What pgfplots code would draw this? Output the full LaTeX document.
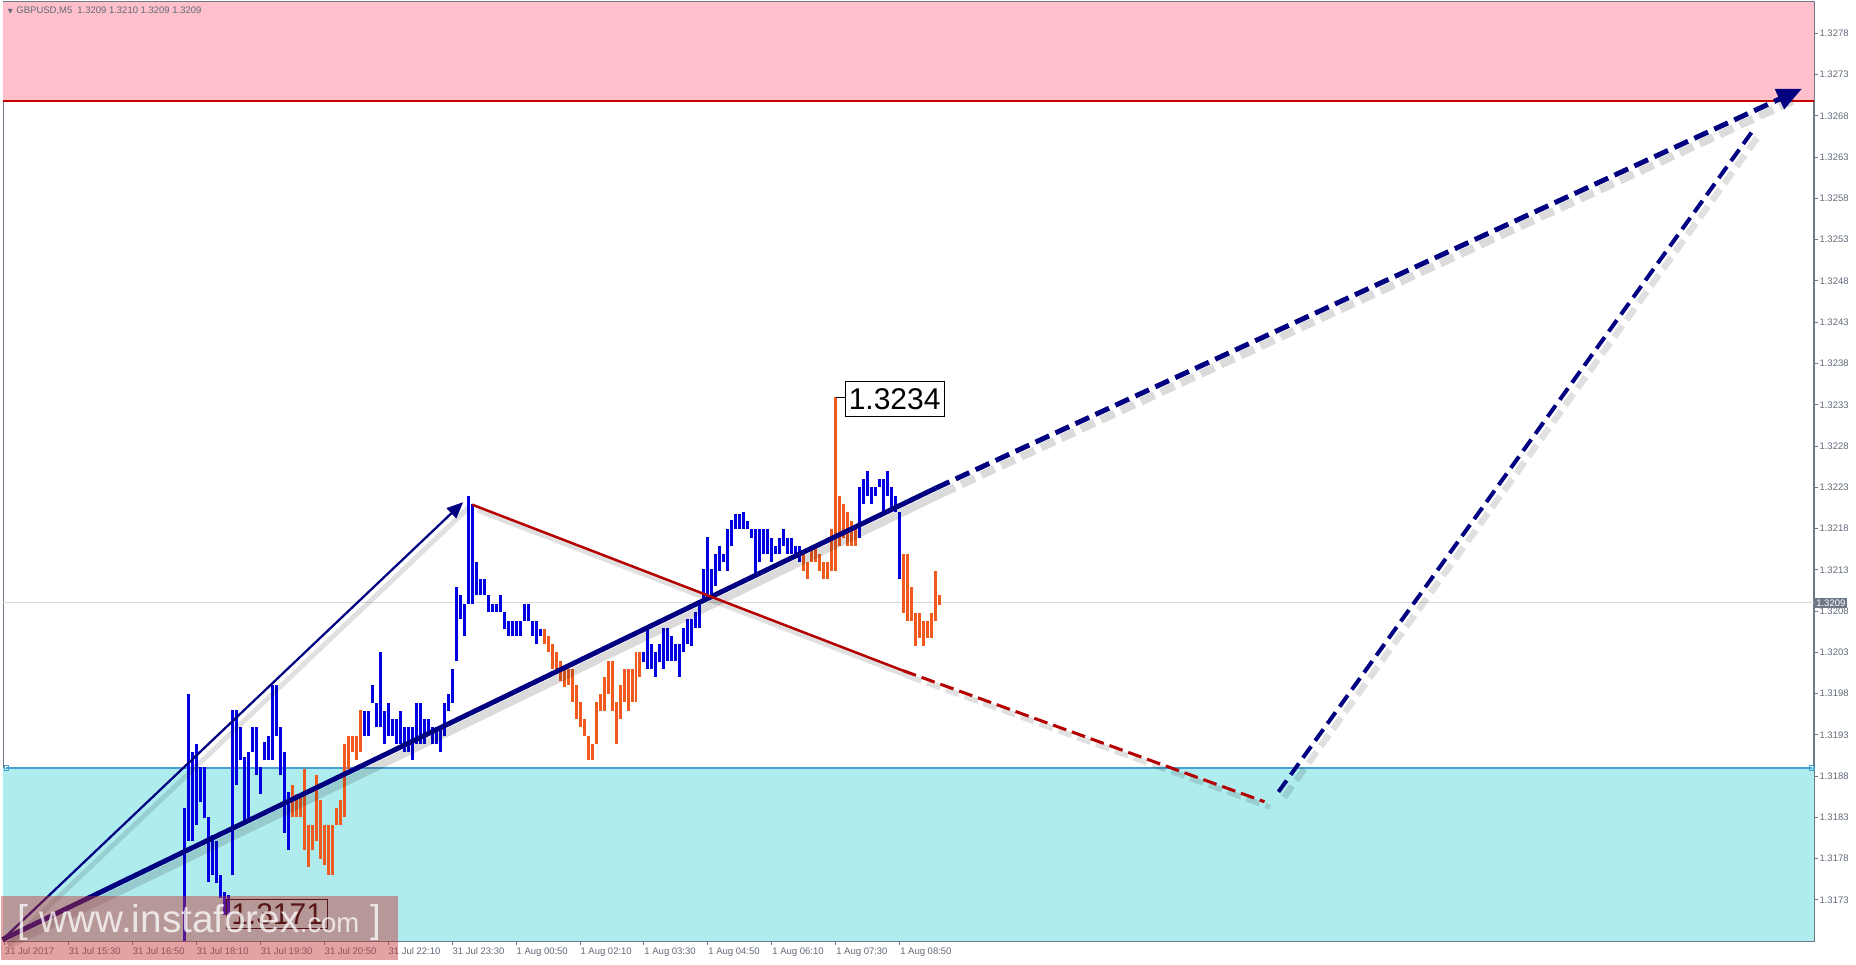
\documentclass[border=0pt]{standalone}
\usepackage{fontspec}
\setmainfont{Liberation Sans}
\newfontfamily\dejavu{DejaVu Sans}
\usepackage{pgfplots}
\usepackage{pgfplotstable}
\pgfplotsset{compat=1.18}
\usetikzlibrary{arrows.meta}

\definecolor{barblue}{RGB}{0,0,225}
\definecolor{barorange}{RGB}{240,90,30}
\definecolor{wave}{RGB}{0,0,128}
\definecolor{wavered}{RGB}{180,0,0}
\definecolor{zonepink}{RGB}{255,192,203}
\definecolor{zonecyan}{RGB}{175,236,238}
\definecolor{zoneline}{RGB}{70,160,210}
\definecolor{axisgray}{RGB}{110,120,135}
\definecolor{labgray}{RGB}{95,105,120}

% bar index (5 min, 0 = 31 Jul 14:10), low, high
\pgfplotstableread{
i l h
45 1.31680 1.31841
46 1.31801 1.31980
47 1.31801 1.31909
48 1.31821 1.31919
49 1.31849 1.31891
50 1.31829 1.31891
51 1.31752 1.31831
52 1.31760 1.31809
53 1.31750 1.31801
54 1.31732 1.31760
55 1.31712 1.31740
56 1.31712 1.31736
57 1.31760 1.31960
58 1.31869 1.31960
59 1.31899 1.31940
60 1.31821 1.31903
61 1.31825 1.31909
62 1.31909 1.31940
63 1.31881 1.31940
64 1.31859 1.31891
65 1.31899 1.31921
66 1.31899 1.31929
67 1.31899 1.31990
68 1.31929 1.31990
69 1.31881 1.31940
70 1.31811 1.31909
71 1.31790 1.31861
90 1.31929 1.31959
91 1.31929 1.31959
92 1.31969 1.31990
93 1.31939 1.31969
94 1.31939 1.32030
95 1.31919 1.31959
96 1.31929 1.31969
97 1.31929 1.31949
98 1.31919 1.31949
99 1.31919 1.31959
100 1.31909 1.31939
101 1.31909 1.31939
102 1.31899 1.31939
103 1.31919 1.31969
104 1.31919 1.31969
105 1.31919 1.31949
106 1.31929 1.31949
107 1.31919 1.31939
108 1.31919 1.31939
109 1.31909 1.31939
110 1.31929 1.31969
111 1.31959 1.31980
112 1.31969 1.32010
113 1.32020 1.32109
114 1.32070 1.32099
115 1.32050 1.32089
116 1.32089 1.32220
117 1.32089 1.32210
118 1.32099 1.32139
119 1.32099 1.32119
120 1.32099 1.32119
121 1.32079 1.32099
122 1.32079 1.32089
123 1.32079 1.32089
124 1.32079 1.32099
125 1.32058 1.32079
126 1.32050 1.32068
127 1.32050 1.32068
128 1.32050 1.32068
129 1.32050 1.32068
130 1.32068 1.32089
131 1.32068 1.32089
132 1.32050 1.32068
133 1.32040 1.32068
134 1.32050 1.32058
160 1.32018 1.32030
161 1.32010 1.32058
162 1.32010 1.32040
163 1.32000 1.32030
164 1.32018 1.32040
165 1.32010 1.32060
166 1.32020 1.32060
167 1.32020 1.32050
168 1.32020 1.32040
169 1.32000 1.32040
170 1.32030 1.32060
171 1.32040 1.32071
172 1.32038 1.32071
173 1.32060 1.32079
174 1.32060 1.32091
175 1.32095 1.32131
176 1.32101 1.32170
177 1.32101 1.32131
178 1.32111 1.32149
179 1.32129 1.32159
180 1.32139 1.32149
181 1.32129 1.32180
182 1.32159 1.32190
183 1.32180 1.32198
184 1.32180 1.32198
185 1.32179 1.32200
186 1.32179 1.32189
187 1.32169 1.32179
188 1.32125 1.32179
189 1.32139 1.32179
190 1.32149 1.32179
191 1.32149 1.32179
192 1.32139 1.32169
193 1.32149 1.32159
194 1.32149 1.32169
195 1.32159 1.32179
196 1.32149 1.32169
197 1.32149 1.32169
198 1.32149 1.32159
199 1.32139 1.32159
214 1.32169 1.32230
215 1.32210 1.32240
216 1.32220 1.32250
217 1.32210 1.32230
218 1.32220 1.32230
219 1.32230 1.32240
220 1.32200 1.32240
221 1.32220 1.32250
222 1.32200 1.32230
223 1.32200 1.32220
224 1.32119 1.32200
}\bluebars

\pgfplotstableread{
i l h
72 1.31831 1.31869
73 1.31831 1.31859
74 1.31831 1.31859
75 1.31790 1.31889
76 1.31770 1.31821
77 1.31790 1.31821
78 1.31801 1.31881
79 1.31780 1.31851
80 1.31772 1.31821
81 1.31760 1.31821
82 1.31760 1.31821
83 1.31821 1.31841
84 1.31821 1.31851
85 1.31831 1.31919
86 1.31889 1.31929
87 1.31909 1.31929
88 1.31899 1.31929
89 1.31909 1.31960
135 1.32040 1.32058
136 1.32030 1.32050
137 1.32010 1.32040
138 1.32010 1.32030
139 1.31995 1.32020
140 1.31988 1.32010
141 1.31990 1.32010
142 1.31970 1.32010
143 1.31949 1.31990
144 1.31939 1.31970
145 1.31929 1.31949
146 1.31899 1.31929
147 1.31899 1.31919
148 1.31919 1.31970
149 1.31959 1.31980
150 1.31959 1.32000
151 1.31980 1.32020
152 1.31959 1.32020
153 1.31919 1.31970
154 1.31949 1.31990
155 1.31970 1.32010
156 1.31959 1.32010
157 1.31970 1.32010
158 1.31970 1.32030
159 1.32000 1.32030
200 1.32129 1.32149
201 1.32119 1.32139
202 1.32139 1.32159
203 1.32139 1.32159
204 1.32129 1.32149
205 1.32119 1.32139
206 1.32119 1.32139
207 1.32129 1.32179
208 1.32129 1.32339
209 1.32159 1.32220
210 1.32169 1.32210
211 1.32159 1.32200
212 1.32159 1.32189
213 1.32159 1.32179
225 1.32078 1.32149
226 1.32068 1.32149
227 1.32068 1.32109
228 1.32038 1.32078
229 1.32048 1.32078
230 1.32038 1.32068
231 1.32048 1.32068
232 1.32048 1.32078
233 1.32068 1.32129
234 1.32088 1.32099
}\orangebars

\begin{document}
\begin{tikzpicture}
\begin{axis}[
  name=main,
  at={(0,0)}, anchor=south west,
  scale only axis, width=724.8pt, height=376pt,
  xmin=-0.25, xmax=452.75, ymin=1.31680, ymax=1.32818,
  clip=false,
  axis line style={draw=axisgray, line width=0.5pt},
  tick align=outside, major tick length=1.4pt,
  tick style={axisgray, line width=0.4pt},
  xtick pos=bottom, ytick pos=right,
  xtick={0,16,32,48,64,80,96,112,128,144,160,176,192,208,224},
  xticklabels={31 Jul 2017,31 Jul 15:30,31 Jul 16:50,31 Jul 18:10,31 Jul 19:30,31 Jul 20:50,31 Jul 22:10,31 Jul 23:30,1 Aug 00:50,1 Aug 02:10,1 Aug 03:30,1 Aug 04:50,1 Aug 06:10,1 Aug 07:30,1 Aug 08:50},
  ytick={1.3173,1.3178,1.3183,1.3188,1.3193,1.3198,1.3203,1.3208,1.3213,1.3218,1.3223,1.3228,1.3233,1.3238,1.3243,1.3248,1.3253,1.3258,1.3263,1.3268,1.3273,1.3278},
  yticklabels={1.3173,1.3178,1.3183,1.3188,1.3193,1.3198,1.3203,1.3208,1.3213,1.3218,1.3223,1.3228,1.3233,1.3238,1.3243,1.3248,1.3253,1.3258,1.3263,1.3268,1.3273,1.3278},
  ticklabel style={font=\fontsize{3.8pt}{4pt}\selectfont, text=labgray},
  xticklabel style={anchor=north west, inner sep=0pt, yshift=-1pt},
  yticklabel style={anchor=west, inner sep=0pt, xshift=0.6pt},
]
% zones
\addplot[fill=zonepink, draw=none, forget plot] coordinates {(-0.25,1.32698) (452.75,1.32698) (452.75,1.32818) (-0.25,1.32818)} -- cycle;
\addplot[fill=zonecyan, draw=none, forget plot] coordinates {(-0.25,1.31680) (452.75,1.31680) (452.75,1.31890) (-0.25,1.31890)} -- cycle;
\addplot[wavered!80!red, line width=0.5pt, forget plot] coordinates {(-0.25,1.32698) (452.75,1.32698)};
\addplot[zoneline, line width=0.5pt, mark=square, mark size=0.9pt, mark options={fill=white}, forget plot] coordinates {(0.5,1.31890) (452.2,1.31890)};
% current price line
\addplot[black!15, line width=0.3pt, forget plot] coordinates {(-0.25,1.3209) (452.75,1.3209)};
% marker on the price scale
\addplot[axisgray, line width=0.9pt, forget plot] coordinates {(452.75,1.31974) (452.75,1.31998)};

% bars
\addplot[draw=none, no markers, forget plot,
  error bars/.cd, y dir=plus, y explicit, error mark=none,
  error bar style={draw=barblue, line width=1.2pt}]
  table[x=i, y=l, y error expr=\thisrow{h}-\thisrow{l}] {\bluebars};
\addplot[draw=none, no markers, forget plot,
  error bars/.cd, y dir=plus, y explicit, error mark=none,
  error bar style={draw=barorange, line width=1.2pt}]
  table[x=i, y=l, y error expr=\thisrow{h}-\thisrow{l}] {\orangebars};

% soft shadows of the wave lines
\begin{scope}[xshift=1.1pt, yshift=-1.1pt]
\addplot[black, opacity=0.12, line width=2pt, forget plot] coordinates {(-0.5,1.31682) (114.75,1.32212)};
\addplot[black, opacity=0.14, line width=3.2pt, forget plot] coordinates {(-0.5,1.31682) (233,1.32229)};
\addplot[black, opacity=0.14, line width=3.2pt, dash pattern=on 6pt off 2.8pt, forget plot] coordinates {(233,1.32229) (446,1.32705)};
\addplot[black, opacity=0.12, line width=2pt, forget plot] coordinates {(117,1.32209) (224.75,1.32008)};
\addplot[black, opacity=0.12, line width=2.2pt, dash pattern=on 5.6pt off 2.4pt, forget plot] coordinates {(224.75,1.32008) (315.25,1.31849)};
\addplot[black, opacity=0.12, line width=2.6pt, dash pattern=on 5.6pt off 2.8pt, forget plot] coordinates {(318.75,1.31861) (438,1.32666)};
\end{scope}

% wave lines
\addplot[wave, line width=0.9pt, -{Triangle[length=6.5pt,width=5.5pt]}, forget plot] coordinates {(-0.5,1.31682) (114.75,1.32212)};
\addplot[wave, line width=2pt, forget plot] coordinates {(-0.5,1.31682) (233,1.32229)};
\addplot[wave, line width=2pt, dash pattern=on 6pt off 2.8pt, -{Triangle[length=10pt,width=8.5pt]}, forget plot] coordinates {(233,1.32229) (449.75,1.32713)};
\addplot[wavered, line width=1pt, forget plot] coordinates {(117,1.32209) (224.75,1.32008)};
\addplot[wavered, line width=1.2pt, dash pattern=on 5.6pt off 2.4pt, forget plot] coordinates {(224.75,1.32008) (315.25,1.31849)};
\addplot[wave, line width=1.6pt, dash pattern=on 5.6pt off 2.8pt, forget plot] coordinates {(318.75,1.31861) (438,1.32666)};

% price labels
\draw[black, line width=0.4pt] (axis cs:208,1.32339) -- (axis cs:210.25,1.32339);
\node[draw=black, fill=white, line width=0.4pt, inner xsep=1.4pt, inner ysep=2.9pt, anchor=west,
  font=\fontsize{12pt}{12pt}\selectfont] at (axis cs:210.25,1.32337) {1.3234};
\node[draw=black, line width=0.4pt, inner xsep=1.8pt, inner ysep=1.7pt, anchor=west,
  font=\fontsize{12pt}{12pt}\selectfont] at (axis cs:55.5,1.31713) {1.3171};

% watermark
\fill[red!70!black!80, opacity=0.45] (axis cs:-0.75,1.31657) rectangle (axis cs:98.5,1.31735);
\node[text=white, opacity=0.75, inner sep=0pt, font=\fontsize{15.5pt}{15.5pt}\selectfont] at (axis cs:48.75,1.31703)
  {[ www.instaforex{\fontsize{11pt}{11pt}\selectfont.com} ]};

\coordinate (cp) at (axis cs:452.75,1.3209);
\end{axis}
\node[fill=axisgray, text=white, inner xsep=0.7pt, inner ysep=0.6pt, anchor=west,
  font=\fontsize{3.8pt}{4pt}\selectfont] at (cp) {1.3209};
\node[anchor=north west, inner sep=0pt, text=labgray, font=\fontsize{3.8pt}{4pt}\selectfont]
  at ([xshift=1.6pt,yshift=-1.6pt]main.north west) {{\dejavu\fontsize{2.6pt}{3pt}\selectfont ▼}\hspace{1.4pt}GBPUSD,M5\hspace{2pt}1.3209 1.3210 1.3209 1.3209};
\useasboundingbox ([xshift=-0.8pt,yshift=-9.2pt]main.south west) rectangle ++(742.4pt,386pt);
\end{tikzpicture}
\end{document}
